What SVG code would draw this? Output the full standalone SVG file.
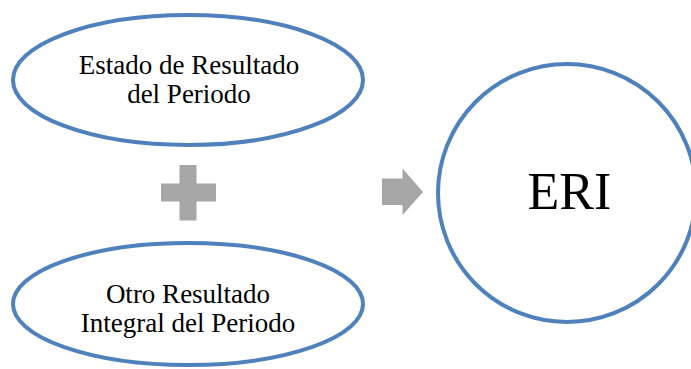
<svg xmlns="http://www.w3.org/2000/svg" width="691" height="369" viewBox="0 0 691 369">
<style>
.shape{fill:#ffffff;stroke:#4f81bd;stroke-width:4}
.lbl{font-family:"Liberation Serif","Times New Roman",serif;font-size:27px;fill:#000000;text-anchor:middle}
.big{font-family:"Liberation Serif","Times New Roman",serif;font-size:52px;fill:#000000;text-anchor:middle}
.op{fill:#a6a6a6}
</style>
<rect width="691" height="369" fill="#ffffff"/>
<g id="estado">
<ellipse class="shape" cx="188" cy="80" rx="175" ry="65"/>
<text class="lbl" x="189" y="73.5">Estado de Resultado</text>
<text class="lbl" x="189" y="103">del Periodo</text>
</g>
<g id="otro">
<ellipse class="shape" cx="188" cy="304" rx="175" ry="61"/>
<text class="lbl" x="188" y="303.3">Otro Resultado</text>
<text class="lbl" x="188" y="332.3">Integral del Periodo</text>
</g>
<g id="plus">
<path class="op" d="M179.5,165 H196.5 V183.5 H216 V201.5 H196.5 V220.5 H179.5 V201.5 H161 V183.5 H179.5 Z"/>
</g>
<g id="connectors">
<path class="op" d="M382,178.5 H402.5 V168.5 L423,192 L402.5,215 V205 H382 Z"/>
</g>
<g id="eri">
<circle class="shape" cx="567" cy="193" r="129"/>
<text class="big" x="569.5" y="208.7">ERI</text>
</g>
</svg>
